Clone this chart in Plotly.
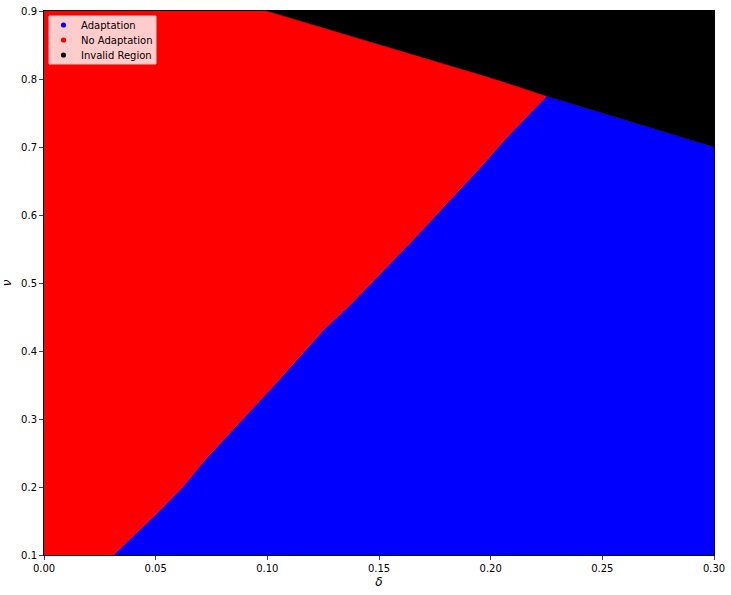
# Adaptation regions in the (delta, nu) plane
import plotly.graph_objects as go

# axis range
x_min, x_max = 0.0, 0.30
y_min, y_max = 0.10, 0.90

# boundary between Adaptation (right/below) and No Adaptation (left/above)
adapt_bx = [0.031, 0.050, 0.062, 0.072, 0.105, 0.125, 0.137, 0.165, 0.186, 0.195, 0.206, 0.225]
adapt_by = [0.100, 0.160, 0.200, 0.240, 0.357, 0.431, 0.468, 0.563, 0.637, 0.669, 0.710, 0.775]

# lower edge of the invalid region
invalid_bx = [0.100, 0.200, 0.225, 0.300]
invalid_by = [0.900, 0.802, 0.775, 0.700]

labels = ['Adaptation', 'No Adaptation', 'Invalid Region']
colors = ['blue', 'red', 'black']

# polygons
blue_x = adapt_bx + invalid_bx[3:] + [x_max, adapt_bx[0]]
blue_y = adapt_by + invalid_by[3:] + [y_min, y_min]

red_x = [x_min] + adapt_bx + invalid_bx[1::-1] + [x_min]
red_y = [y_min] + adapt_by + invalid_by[1::-1] + [y_max]

black_x = invalid_bx + [x_max, invalid_bx[0]]
black_y = invalid_by + [y_max, y_max]

fig = go.Figure()
for px_, py_, c in [(blue_x, blue_y, colors[0]), (red_x, red_y, colors[1]), (black_x, black_y, colors[2])]:
    fig.add_trace(go.Scatter(x=px_, y=py_, fill='toself', fillcolor=c, mode='lines',
                             line=dict(width=0.5, color=c), showlegend=False, hoverinfo='skip'))

W, H = 731, 595
L, R, T, B = 44, 714, 11, 555   # plot area in pixels
def pxx(p):
    return (p - L) / (R - L)
def pxy(p):
    return (B - p) / (B - T)

# legend box, matplotlib style
fig.add_shape(type='rect', xref='paper', yref='paper',
              x0=pxx(49), x1=pxx(156), y0=pxy(64), y1=pxy(16),
              fillcolor='rgba(255,255,255,0.8)', line=dict(color='#cccccc', width=1))
for i, (lab, c) in enumerate(zip(labels, colors)):
    yy = pxy(25 + 15 * i)
    fig.add_shape(type='circle', xref='paper', yref='paper', xsizemode='pixel', ysizemode='pixel',
                  xanchor=pxx(63.5), yanchor=yy, x0=-2.6, x1=2.6, y0=-2.6, y1=2.6,
                  fillcolor=c, line=dict(width=0))
    fig.add_annotation(xref='paper', yref='paper', x=pxx(79), y=yy, text=lab, showarrow=False,
                       xanchor='left', yanchor='middle', font=dict(size=10, color='black'))

fig.update_layout(
    width=W, height=H,
    margin=dict(l=L, r=W - R, t=T, b=H - B),
    plot_bgcolor='white', paper_bgcolor='white',
    font=dict(family='DejaVu Sans', size=10, color='black'),
    showlegend=False,
)
fig.update_xaxes(range=[x_min, x_max], tickvals=[0, 0.05, 0.1, 0.15, 0.2, 0.25, 0.3],
                 tickformat='.2f', ticks='outside', ticklen=4, showgrid=False, zeroline=False,
                 showline=True, linecolor='black', mirror=True, automargin=False,
                 ticklabeloverflow='allow',
                 title=dict(text='<i>δ</i>', standoff=4))
fig.update_yaxes(range=[y_min, y_max], tickvals=[0.1, 0.2, 0.3, 0.4, 0.5, 0.6, 0.7, 0.8, 0.9],
                 tickformat='.1f', ticks='outside', ticklen=4, showgrid=False, zeroline=False,
                 showline=True, linecolor='black', mirror=True, automargin=False,
                 ticklabeloverflow='allow',
                 title=dict(text='<i>ν</i>', standoff=6))

# drop the default page margin so the figure sits at the window corner
fig.write_html("out.html", config={'displayModeBar': False},
               post_script="document.body.style.margin='0';")
